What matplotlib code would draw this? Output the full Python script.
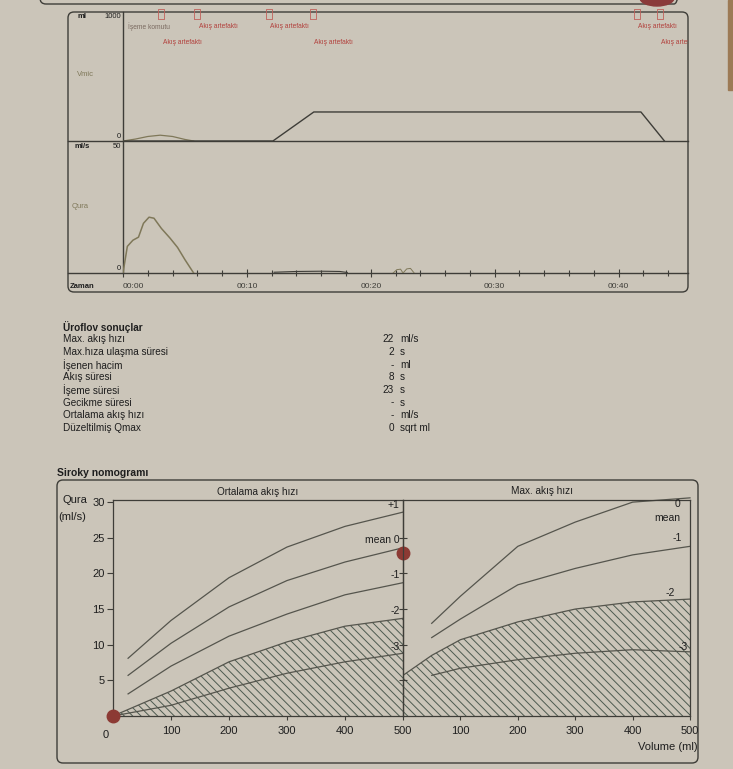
import numpy as np
import matplotlib.pyplot as plt
from matplotlib.patches import FancyBboxPatch, Ellipse, Rectangle

plt.rcParams['font.family'] = ['Liberation Sans', 'DejaVu Sans']
plt.rcParams['hatch.linewidth'] = 0.7

# --- Uroflow trace (time in s) ---
flow_t = [0, 0.35, 0.8, 1.25, 1.65, 2.1, 2.5, 3.1, 3.8, 4.4, 5.0, 5.7]
flow_q = [0, 10.4, 12.8, 14.0, 19.4, 21.8, 21.4, 17.4, 13.6, 10.0, 5.2, 0]
noise_t = [12.2, 14.0, 16.0, 17.5, 18.1]
noise_q = [0.3, 0.6, 0.7, 0.6, 0.2]
blip_t = [21.8, 22.1, 22.4, 22.6, 22.9, 23.2, 23.5]
blip_q = [0, 1.3, 1.5, 0, 1.6, 1.8, 0]

bump_t = [0, 1, 2, 3, 4, 5, 5.7]
bump_v = [0, 15, 35, 45, 35, 12, 0]
vol_t = [0, 12.1, 15.4, 41.8, 43.7]
vol_v = [0, 0, 225, 225, 0]

event_t = [3.1, 6.0, 11.8, 15.3, 41.5, 43.3]
time_ticks = [0, 10, 20, 30, 40]
time_labels = ['00:00', '00:10', '00:20', '00:30', '00:40']

# --- results table ---
res_names = ['Max. akış hızı', 'Max.hıza ulaşma süresi', 'İşenen hacim', 'Akış süresi',
             'İşeme süresi', 'Gecikme süresi', 'Ortalama akış hızı', 'Düzeltilmiş Qmax']
res_vals = ['22', '2', '-', '8', '23', '-', '-', '0']
res_units = ['ml/s', 's', 'ml', 's', 's', 's', 'ml/s', 'sqrt ml']

# --- Siroky nomogram curves (volume ml -> flow ml/s) ---
avg_vol = [26, 100, 200, 300, 400, 500]
avg_p1 = [8.1, 13.4, 19.4, 23.7, 26.6, 28.6]
avg_0 = [5.7, 10.2, 15.3, 19.0, 21.6, 23.6]
avg_m1 = [3.1, 7.0, 11.2, 14.3, 17.0, 18.7]
avg_vol2 = [0, 100, 200, 300, 400, 500]
avg_m2 = [0, 3.5, 7.6, 10.4, 12.6, 13.7]
avg_m3 = [0, 1.5, 3.9, 6.0, 7.6, 8.8]

max_vol = [50, 100, 200, 300, 400, 500]
max_0 = [13.0, 16.8, 23.8, 27.2, 30.0, 30.6]
max_m1 = [11.0, 13.6, 18.4, 20.7, 22.6, 23.8]
max_m3 = [5.7, 6.7, 7.9, 8.8, 9.3, 9.0]
max_vol2 = [0, 50, 100, 200, 300, 400, 500]
max_m2 = [5.7, 8.5, 10.7, 13.2, 15.0, 16.0, 16.4]

pt_origin = (0, 0)
pt_patient = (500, 22.8)

PAPER = '#cbc5b9'
LINE = '#3e3d38'
CURVE = '#55554d'
TRACE = '#7f7859'
RED = '#b2403c'
TXT = '#1e1e1e'
W, H = 733, 769


def box(x0, y0, x1, y1):
    return [x0 / W, 1 - y1 / H, (x1 - x0) / W, (y1 - y0) / H]


fig = plt.figure(figsize=(7.33, 7.69), dpi=100)
fig.patch.set_facecolor(PAPER)

bg = fig.add_axes([0, 0, 1, 1])
bg.set_xlim(0, W)
bg.set_ylim(H, 0)
bg.axis('off')

# page leftovers: previous box and table edge
bg.add_patch(FancyBboxPatch((40, -40), 640, 44, boxstyle='round,pad=0,rounding_size=6',
                            fill=False, ec=LINE, lw=1))
bg.add_patch(Ellipse((657, -2), 34, 16, color='#8a3a3a'))
bg.add_patch(Rectangle((728, 0), 6, 90, color='#9c7a55'))

# top box
bg.add_patch(FancyBboxPatch((68, 12), 620, 280, boxstyle='round,pad=0,rounding_size=6',
                            fill=False, ec=LINE, lw=1))
bg.plot([68, 688], [141, 141], color=LINE, lw=1)
bg.plot([68, 688], [273, 273], color=LINE, lw=1)
bg.plot([123, 123], [12, 273], color=LINE, lw=1)

bg.text(82, 16, 'ml', fontsize=5.5, fontweight='bold', ha='center', va='center', color=TXT)
bg.text(121, 16, '1000', fontsize=5.5, ha='right', va='center', color=TXT)
bg.text(85, 75, 'Vmic', fontsize=5.5, ha='center', va='center', color=TRACE)
bg.text(121, 136, '0', fontsize=5.5, ha='right', va='center', color=TXT)
bg.text(82, 146, 'ml/s', fontsize=5.5, fontweight='bold', ha='center', va='center', color=TXT)
bg.text(121, 146, '50', fontsize=5.5, ha='right', va='center', color=TXT)
bg.text(80, 207, 'Qura', fontsize=5.5, ha='center', va='center', color=TRACE)
bg.text(121, 269, '0', fontsize=5.5, ha='right', va='center', color=TXT)
bg.text(82, 286, 'Zaman', fontsize=5.5, fontweight='bold', ha='center', va='center', color=TXT)

# volume trace
ax_vol = fig.add_axes(box(123, 12, 688, 141))
ax_vol.patch.set_alpha(0)
ax_vol.set_xlim(0, 45.6)
ax_vol.set_ylim(0, 1000)
ax_vol.axis('off')
ax_vol.plot(bump_t, bump_v, color=TRACE, lw=0.9)
ax_vol.plot(vol_t, vol_v, color=LINE, lw=1.0)
ax_vol.plot(event_t, [985] * len(event_t), ls='none',
            marker=[(-1, -1.7), (1, -1.7), (1, 1.7), (-1, 1.7), (-1, -1.7)],
            ms=6.5, mfc='none', mec='#c0605a', mew=0.6, clip_on=False)
ax_vol.text(0.4, 885, 'İşeme komutu', fontsize=4.8, color='#7a6a60', va='center')
lab_rows = [760, 885, 885, 760, 885, 760]
for t, yv in zip(event_t, lab_rows):
    ax_vol.text(t + 0.1, yv, 'Akış artefaktı', fontsize=4.8, color=RED, va='center', clip_on=True)

# flow trace
ax_flow = fig.add_axes(box(123, 145, 688, 273))
ax_flow.patch.set_alpha(0)
ax_flow.set_xlim(0, 45.6)
ax_flow.set_ylim(0, 50)
for s in ax_flow.spines.values():
    s.set_visible(False)
ax_flow.plot(flow_t, flow_q, color=TRACE, lw=1.1)
ax_flow.plot(noise_t, noise_q, color=LINE, lw=0.8)
ax_flow.plot(blip_t, blip_q, color=TRACE, lw=0.7)
ax_flow.set_yticks([])
ax_flow.set_xticks(time_ticks)
ax_flow.set_xticklabels(time_labels)
ax_flow.set_xticks(np.arange(0, 46, 2), minor=True)
ax_flow.tick_params(axis='x', which='major', direction='inout', length=6, width=0.8,
                    labelsize=6, pad=4, colors=LINE)
ax_flow.tick_params(axis='x', which='minor', direction='inout', length=4, width=0.8, colors=LINE)
ax_flow.get_xticklabels()[0].set_ha('left')

# results table
bg.text(63, 327, 'Üroflov sonuçlar', fontsize=7.2, fontweight='bold', va='center', color=TXT)
for i, (n, v, u) in enumerate(zip(res_names, res_vals, res_units)):
    y = 339.5 + i * 12.6
    bg.text(63, y, n, fontsize=7.2, va='center', color=TXT)
    bg.text(394, y, v, fontsize=7.2, va='center', ha='right', color=TXT)
    bg.text(400, y, u, fontsize=7.2, va='center', ha='left', color=TXT)

# nomogram frame
bg.text(57, 473, 'Siroky nomogramı', fontsize=7.5, fontweight='bold', va='center', color=TXT)
bg.add_patch(FancyBboxPatch((57, 480), 641, 283, boxstyle='round,pad=0,rounding_size=6',
                            fill=False, ec=LINE, lw=1))
bg.text(258, 492, 'Ortalama akış hızı', fontsize=7.2, ha='center', va='center', color=TXT)
bg.text(542, 491, 'Max. akış hızı', fontsize=7.2, ha='center', va='center', color=TXT)
bg.text(75, 500, 'Qura', fontsize=8, ha='center', va='center', color=TXT)
bg.text(72, 517, '(ml/s)', fontsize=8, ha='center', va='center', color=TXT)
bg.text(668, 747, 'Volume (ml)', fontsize=8, ha='center', va='center', color=TXT)

ax_l = fig.add_axes(box(113, 500, 403, 716))
ax_r = fig.add_axes(box(403, 500, 690, 716))
for ax in (ax_l, ax_r):
    ax.patch.set_alpha(0)
    ax.set_xlim(0, 500)
    ax.set_ylim(0, 30.3)
    for s in ax.spines.values():
        s.set_color(LINE)
        s.set_linewidth(0.9)
    ax.set_xticks([100, 200, 300, 400, 500])
    ax.tick_params(axis='x', direction='out', length=3, width=0.8, labelsize=8, pad=4,
                   colors=LINE, labelcolor=TXT)

ax_l.set_yticks([5, 10, 15, 20, 25, 30])
ax_l.tick_params(axis='y', direction='out', length=4, width=0.8, labelsize=8, pad=2,
                 colors=LINE, labelcolor=TXT)
ax_l.text(-8, -1.9, '0', fontsize=8, ha='right', va='top', color=TXT)
ax_r.set_yticks([5, 10, 15, 20, 25])
ax_r.set_yticklabels([])
ax_r.tick_params(axis='y', direction='inout', length=6, width=0.8, colors=LINE)

HATCH = '\\\\\\\\'
# left panel: average flow
ax_l.fill_between(avg_vol2, 0, avg_m2, facecolor='none', edgecolor='#4d5a50', hatch=HATCH, lw=0)
for q in (avg_p1, avg_0, avg_m1):
    ax_l.plot(avg_vol, q, color=CURVE, lw=0.9)
ax_l.plot(avg_vol2, avg_m2, color=CURVE, lw=0.9)
ax_l.plot(avg_vol2, avg_m3, color=CURVE, lw=0.9)
for lab, yv in [('+1', 29.6), ('mean 0', 24.7), ('-1', 19.8), ('-2', 14.7), ('-3', 9.7)]:
    ax_l.text(494, yv, lab, fontsize=7.5, ha='right', va='center', color=TXT)
ax_l.plot(*pt_origin, 'o', ms=9, color='#8c3a34', clip_on=False, zorder=5)
ax_l.plot(*pt_patient, 'o', ms=9, color='#8c3a34', clip_on=False, zorder=5)

# right panel: max flow
ax_r.fill_between(max_vol2, 0, max_m2, facecolor='none', edgecolor='#4d5a50', hatch=HATCH, lw=0)
ax_r.plot(max_vol, max_0, color=CURVE, lw=0.9, clip_on=False)
ax_r.plot(max_vol, max_m1, color=CURVE, lw=0.9)
ax_r.plot(max_vol2, max_m2, color=CURVE, lw=0.9)
ax_r.plot(max_vol, max_m3, color=CURVE, lw=0.9)
for lab, xv, yv in [('0', 479, 29.8), ('mean', 460, 27.8), ('-1', 477, 24.9),
                    ('-2', 466, 17.2), ('-3', 488, 9.7)]:
    ax_r.text(xv, yv, lab, fontsize=7.5, ha='center', va='center', color=TXT)

fig.savefig('out.png', dpi=100, facecolor=PAPER)
